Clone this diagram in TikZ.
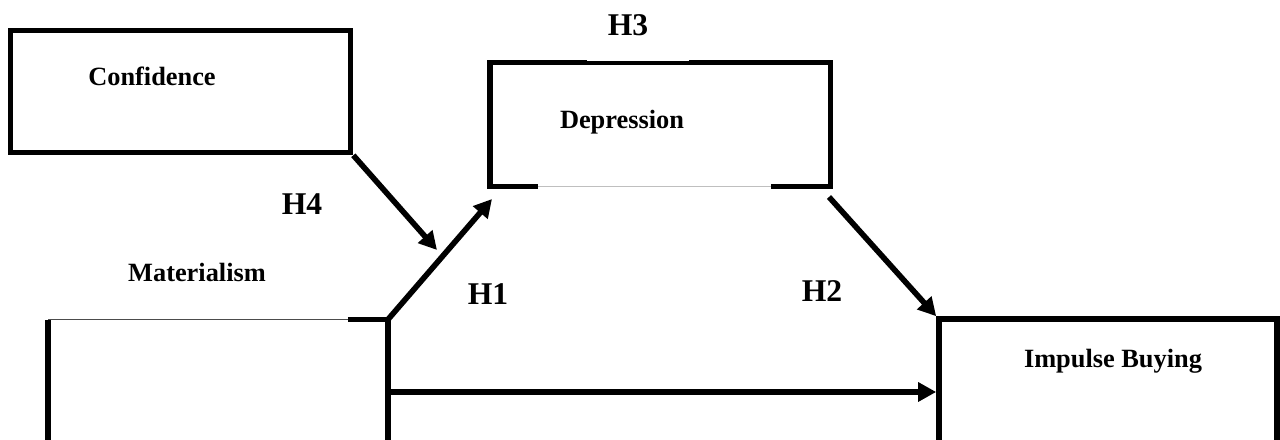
\documentclass[tikz,border=0pt]{standalone}
\usepackage{fontspec}
\setmainfont{Liberation Serif}
\usepackage{tikz}
\usetikzlibrary{positioning,arrows.meta,calc}

\begin{document}
\begin{tikzpicture}[
x=0.2mm,y=-0.2mm,
box/.style={rectangle,draw=none,inner sep=0pt},
edge/.style={line width=3.2pt,line join=miter},
faint/.style={line width=0.6pt,draw=black!70},
lbl/.style={anchor=base,inner sep=0pt,font=\fontsize{15}{18}\selectfont\bfseries},
hyp/.style={anchor=base,inner sep=0pt,font=\fontsize{18}{21}\selectfont\bfseries},
arrow/.style={-{Triangle[length=3.6mm,width=3.7mm]},line width=3.2pt}
]
\useasboundingbox (0,0) rectangle (1280,440);
\node[box,draw,edge,minimum width=68mm,minimum height=24.4mm] (conf) at (180.5,91.5) {};
\node[box,minimum width=68mm,minimum height=24.6mm] (dep) at (660.25,124.5) {};
\node[box,minimum width=67.8mm,minimum height=28.8mm] (mat) at (218,392) {};
\node[box,draw,edge,minimum width=67.6mm,minimum height=29.2mm] (imp) at (1108,392) {};
\node[lbl] (confl) at (152,86) {Confidence};
\node[lbl] (depl) at (622,129) {Depression};
\node[lbl] (matl) at (197,281.7) {Materialism};
\node[lbl] (impl) at (1113,368) {Impulse Buying};
\node[hyp] (h3) at (628,35.7) {H3};
\node[hyp] (h4) at (302,215) {H4};
\node[hyp] (h1) at (488,305) {H1};
\node[hyp] (h2) at (822,302) {H2};
\draw[edge] ($(dep.south west)+(48,0)$) -- (dep.south west) -- (dep.north west) -- ($(dep.north west)+(97,0)$);
\draw[line width=2.4pt] ($(dep.north west)+(97,0)$) -- ($(dep.north west)+(199,0)$);
\draw[edge] ($(dep.north west)+(199,0)$) -- (dep.north east) -- (dep.south east) -- ($(dep.south east)+(-60,0)$);
\draw[line width=0.5pt,draw=black!25] ($(dep.south west)+(48,0)$) -- ($(dep.south east)+(-60,0)$);
\draw[edge] ($(mat.north east)+(-40,0)$) -- (mat.north east) -- (mat.south east) -- (mat.south west) -- (mat.north west);
\draw[faint] (mat.north west) -- ($(mat.north east)+(-40,0)$);
\coordinate (h4tip) at (437,250);
\coordinate (h1tip) at (492,199);
\coordinate (h2from) at (829,197);
\draw[arrow] (conf.south east) -- (h4tip);
\draw[arrow] (mat.north east) -- (h1tip);
\draw[arrow] (h2from) -- (imp.north west);
\draw[arrow] (mat.east) -- (imp.west);
\end{tikzpicture}
\end{document}
